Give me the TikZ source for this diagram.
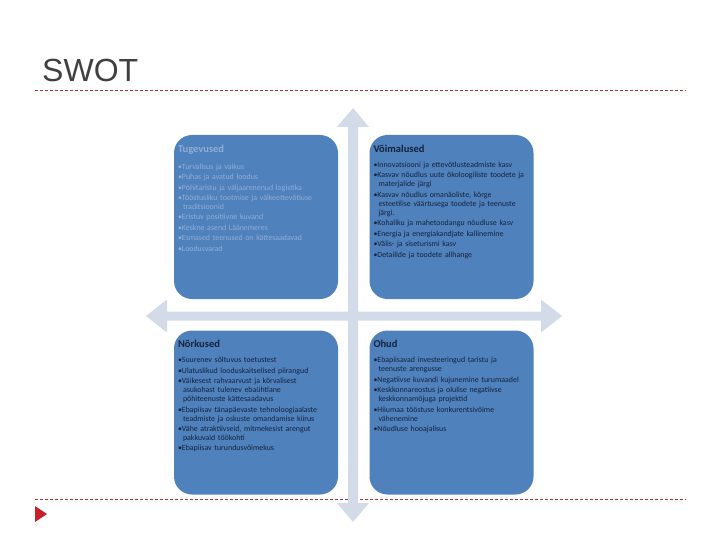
\documentclass[tikz,border=0pt]{standalone}
\usepackage{fontspec}
\setmainfont{Carlito}
\newfontfamily\titlefont{Liberation Sans}
\usetikzlibrary{positioning}
\definecolor{quadblue}{HTML}{4F81BD}
\definecolor{crossgray}{HTML}{D3DBE9}
\definecolor{rulered}{HTML}{A8343C}
\definecolor{markred}{HTML}{C8202A}
\definecolor{fadedtext}{HTML}{93ADD4}
\definecolor{darktext}{HTML}{15223A}
\definecolor{titlegray}{HTML}{404040}
\newcommand\swotitem[1]{\par\hangindent=5pt\hangafter=1\noindent\textbullet#1}
\newcommand\listsetup{\hyphenpenalty=10000 \exhyphenpenalty=10000 \setlength\parskip{1.6pt}}

\begin{document}
\begin{tikzpicture}[x=1pt,y=-1pt,
    quad/.style={fill=quadblue,rounded corners=18pt,minimum width=164pt,minimum height=164pt,inner sep=0pt},
    head/.style={anchor=north west,inner sep=0pt,font=\fontsize{10.5}{12}\bfseries\selectfont},
    swlist/.style={text width=160pt,align=left,inner sep=0pt,font=\fontsize{7.9}{8.9}\selectfont},
    rule/.style={rulered,line width=0.7pt,dash pattern=on 3pt off 2pt}]
    \useasboundingbox (0,0) rectangle (720,540);
    % title and rules
    \node[anchor=base west,inner sep=0pt,text=titlegray,font=\titlefont\fontsize{32}{32}\selectfont] (title) at (42,82) {SWOT};
    \draw[rule] (35,90) -- (686,90);
    \draw[rule] (35,499) -- (686,499);
    \fill[markred] (35,506) -- (47,514) -- (35,522) -- cycle;
    % cross
    \fill[crossgray] (353,108) -- (369,127) -- (358,127) -- (358,503) -- (369,503) -- (353,522)
      -- (337,503) -- (348,503) -- (348,127) -- (337,127) -- cycle;
    \fill[crossgray] (146,316) -- (167,299.5) -- (167,311.5) -- (541,311.5) -- (541,299.5) -- (562,316)
      -- (541,332.5) -- (541,320.5) -- (167,320.5) -- (167,332.5) -- cycle;
    % quadrants
    \node[quad] (tug) at (256,217) {};
    \node[quad] (voi) at (451.5,217) {};
    \node[quad] (nor) at (256,412.5) {};
    \node[quad] (ohu) at (451.5,412.5) {};
    \node[head,text=fadedtext] (tughead) at ([shift={(4pt,-10pt)}]tug.north west) {Tugevused};
    \node[head,text=darktext] (voihead) at ([shift={(4pt,-10pt)}]voi.north west) {Võimalused};
    \node[head,text=darktext] (norhead) at ([shift={(4pt,-10pt)}]nor.north west) {Nõrkused};
    \node[head,text=darktext] (ohuhead) at ([shift={(4pt,-10pt)}]ohu.north west) {Ohud};
    \node[swlist,text=fadedtext,below right=4pt and 0pt of tughead.south west] (tuglist) {\listsetup
      \swotitem{Turvalisus ja vaikus}
      \swotitem{Puhas ja avatud loodus}
      \swotitem{Põhitaristu ja väljaarenenud logistika}
      \swotitem{Tööstusliku tootmise ja väikeettevõtluse\newline traditsioonid}
      \swotitem{Eristuv positiivne kuvand}
      \swotitem{Keskne asend Läänemeres}
      \swotitem{Esmased teenused on kättesaadavad}
      \swotitem{Loodusvarad}};
    \node[swlist,text=darktext,below right=4pt and 0pt of voihead.south west] (voilist) {\listsetup
      \swotitem{Innovatsiooni ja ettevõtlusteadmiste kasv}
      \swotitem{Kasvav nõudlus uute ökoloogiliste toodete ja\newline materjalide järgi}
      \swotitem{Kasvav nõudlus omanäoliste, kõrge\newline esteetilise väärtusega toodete ja teenuste\newline järgi.}
      \swotitem{Kohaliku ja mahetoodangu nõudluse kasv}
      \swotitem{Energia ja energiakandjate kallinemine}
      \swotitem{Välis- ja siseturismi kasv}
      \swotitem{Detailide ja toodete allhange}};
    \node[swlist,text=darktext,below right=4pt and 0pt of norhead.south west] (norlist) {\listsetup
      \swotitem{Suurenev sõltuvus toetustest}
      \swotitem{Ulatuslikud looduskaitselised piirangud}
      \swotitem{Väikesest rahvaarvust ja kõrvalisest\newline asukohast tulenev ebaühtlane\newline põhiteenuste kättesaadavus}
      \swotitem{Ebapiisav tänapäevaste tehnoloogiaalaste\newline teadmiste ja oskuste omandamise kiirus}
      \swotitem{Vähe atraktiivseid, mitmekesist arengut\newline pakkuvaid töökohti}
      \swotitem{Ebapiisav turundusvõimekus}};
    \node[swlist,text=darktext,below right=4pt and 0pt of ohuhead.south west] (ohulist) {\listsetup
      \swotitem{Ebapiisavad investeeringud taristu ja\newline teenuste arengusse}
      \swotitem{Negatiivse kuvandi kujunemine turumaadel}
      \swotitem{Keskkonnareostus ja olulise negatiivse\newline keskkonnamõjuga projektid}
      \swotitem{Hiiumaa tööstuse konkurentsivõime\newline vähenemine}
      \swotitem{Nõudluse hooajalisus}};
\end{tikzpicture}
\end{document}
